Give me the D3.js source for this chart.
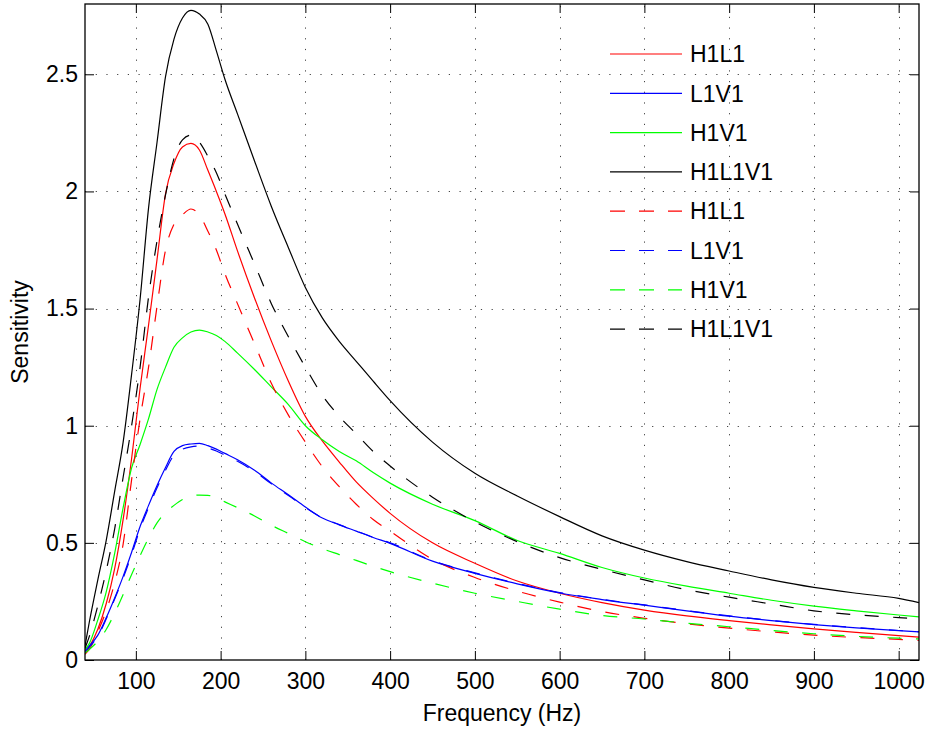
<!DOCTYPE html>
<html>
<head>
<meta charset="utf-8">
<script src="https://cdn.jsdelivr.net/npm/d3@7/dist/d3.min.js"></script>
<style>
  html, body { margin: 0; padding: 0; background: #fff; }
  svg text { font-family: "Liberation Sans", Arial, Helvetica, sans-serif; }
</style>
</head>
<body>
<svg id="chart" width="930" height="731"></svg>
<script>
// ---------------- data ----------------
const freq = [40, 45, 55, 65, 75, 85, 95, 105, 115, 125, 135, 145, 155, 165, 175, 185, 195, 205,
  220, 240, 260, 280, 300, 320, 340, 360, 380, 400, 450, 500, 550, 600, 650, 700, 750, 800,
  850, 900, 950, 1000, 1024];

const h1l1Solid = [0.025, 0.055, 0.13, 0.24, 0.39, 0.60, 0.86, 1.16, 1.43, 1.71, 1.99, 2.12, 2.19, 2.205,
  2.177, 2.09, 2.00, 1.905, 1.745, 1.545, 1.36, 1.19, 1.04, 0.935, 0.845, 0.76, 0.69, 0.626, 0.50,
  0.413, 0.337, 0.285, 0.245, 0.213, 0.188, 0.168, 0.15, 0.133, 0.118, 0.104, 0.098];

const l1v1Solid = [0.04, 0.06, 0.105, 0.18, 0.265, 0.357, 0.46, 0.57, 0.66, 0.745, 0.822, 0.89, 0.915,
  0.922, 0.925, 0.915, 0.90, 0.882, 0.855, 0.81, 0.755, 0.705, 0.653, 0.606, 0.577, 0.55, 0.523,
  0.498, 0.422, 0.37, 0.325, 0.286, 0.258, 0.234, 0.21, 0.187, 0.168, 0.151, 0.137, 0.125, 0.12];

const h1v1Solid = [0.045, 0.07, 0.17, 0.29, 0.455, 0.65, 0.82, 0.92, 1.03, 1.155, 1.25, 1.335, 1.375,
  1.40, 1.408, 1.40, 1.385, 1.36, 1.31, 1.24, 1.165, 1.09, 1.00, 0.94, 0.89, 0.85, 0.80, 0.755,
  0.665, 0.595, 0.51, 0.455, 0.395, 0.35, 0.315, 0.285, 0.255, 0.23, 0.21, 0.192, 0.184];

const h1l1v1Solid = [0.06, 0.16, 0.34, 0.51, 0.72, 0.93, 1.22, 1.54, 1.93, 2.21, 2.49, 2.65, 2.74, 2.773,
  2.757, 2.714, 2.60, 2.48, 2.33, 2.13, 1.935, 1.76, 1.59, 1.46, 1.36, 1.275, 1.19, 1.107, 0.93,
  0.797, 0.70, 0.612, 0.53, 0.469, 0.42, 0.38, 0.342, 0.31, 0.285, 0.263, 0.245];

const h1l1Dashed = [0.025, 0.045, 0.12, 0.21, 0.33, 0.495, 0.77, 1.03, 1.25, 1.51, 1.75, 1.86, 1.90,
  1.925, 1.90, 1.83, 1.75, 1.65, 1.52, 1.35, 1.18, 1.045, 0.93, 0.825, 0.74, 0.665, 0.60, 0.55,
  0.43, 0.352, 0.294, 0.247, 0.207, 0.178, 0.155, 0.136, 0.12, 0.106, 0.096, 0.088, 0.084];

const l1v1Dashed = [0.035, 0.055, 0.10, 0.175, 0.26, 0.35, 0.45, 0.56, 0.65, 0.735, 0.81, 0.875, 0.90,
  0.91, 0.913, 0.905, 0.892, 0.875, 0.848, 0.805, 0.752, 0.702, 0.651, 0.607, 0.578, 0.551, 0.524,
  0.50, 0.424, 0.372, 0.327, 0.288, 0.259, 0.235, 0.211, 0.188, 0.169, 0.152, 0.138, 0.126, 0.121];

const h1v1Dashed = [0.03, 0.045, 0.08, 0.13, 0.20, 0.28, 0.365, 0.445, 0.52, 0.585, 0.63, 0.66, 0.685,
  0.70, 0.704, 0.703, 0.692, 0.675, 0.65, 0.615, 0.575, 0.54, 0.505, 0.475, 0.45, 0.425, 0.40,
  0.377, 0.328, 0.285, 0.25, 0.217, 0.19, 0.175, 0.157, 0.142, 0.126, 0.112, 0.101, 0.093, 0.09];

const h1l1v1Dashed = [0.05, 0.10, 0.23, 0.38, 0.56, 0.78, 1.00, 1.25, 1.55, 1.79, 1.985, 2.14, 2.22,
  2.24, 2.21, 2.15, 2.08, 1.99, 1.86, 1.69, 1.52, 1.38, 1.25, 1.13, 1.04, 0.965, 0.89, 0.828,
  0.695, 0.59, 0.505, 0.437, 0.387, 0.342, 0.30, 0.268, 0.239, 0.21, 0.193, 0.181, 0.175];

const seriesNames = ["H1L1", "L1V1", "H1V1", "H1L1V1", "H1L1", "L1V1", "H1V1", "H1L1V1"];
const seriesValues = [h1l1Solid, l1v1Solid, h1v1Solid, h1l1v1Solid,
                      h1l1Dashed, l1v1Dashed, h1v1Dashed, h1l1v1Dashed];
const seriesColors = ["#ff0000", "#0000ff", "#00ff00", "#000000",
                      "#ff0000", "#0000ff", "#00ff00", "#000000"];
const seriesDashed = [false, false, false, false, true, true, true, true];

const xTicks = [100, 200, 300, 400, 500, 600, 700, 800, 900, 1000];
const yTicks = [0, 0.5, 1, 1.5, 2, 2.5];
const xLabel = "Frequency (Hz)";
const yLabel = "Sensitivity";

// ---------------- layout ----------------
const L = 85, R = 919, T = 4, B = 660;
const svg = d3.select("#chart");
const x = d3.scaleLinear().domain([40, 1024]).range([L, R]);
const y = d3.scaleLinear().domain([0, 2.8]).range([B, T]);
const FS = 23;
const DASH = "14,14.5";

// grid
const grid = svg.append("g");
grid.selectAll("line.gx").data(xTicks).enter().append("line")
  .attr("x1", d => Math.round(x(d)) + 0.5).attr("x2", d => Math.round(x(d)) + 0.5)
  .attr("y1", B).attr("y2", T)
  .attr("stroke", "#444").attr("stroke-width", 1).attr("stroke-dasharray", "1.2,9.5");
grid.selectAll("line.gy").data(yTicks.filter(d => d > 0)).enter().append("line")
  .attr("y1", d => Math.round(y(d)) + 0.5).attr("y2", d => Math.round(y(d)) + 0.5)
  .attr("x1", L).attr("x2", R)
  .attr("stroke", "#444").attr("stroke-width", 1).attr("stroke-dasharray", "1.2,9.5");

// series
svg.append("clipPath").attr("id", "clip").append("rect")
  .attr("x", L).attr("y", T).attr("width", R - L).attr("height", B - T);
const line = d3.line().curve(d3.curveMonotoneX).x(d => x(d[0])).y(d => y(d[1]));
const plot = svg.append("g").attr("clip-path", "url(#clip)");
seriesValues.forEach((vals, i) => {
  plot.append("path")
    .datum(freq.map((f, j) => [f, vals[j]]))
    .attr("d", line)
    .attr("fill", "none")
    .attr("stroke", seriesColors[i])
    .attr("stroke-width", 1.2)
    .attr("stroke-dasharray", seriesDashed[i] ? DASH : null);
});

// axes
function styleAxis(g) {
  g.select(".domain").remove();
  g.selectAll(".tick line").attr("stroke", "#000").attr("stroke-width", 1);
  g.selectAll(".tick text").attr("fill", "#000").style("font-size", FS + "px");
}
svg.append("g").attr("transform", `translate(0,${B})`)
  .call(d3.axisBottom(x).tickValues(xTicks).tickSize(-9).tickPadding(13).tickFormat(d => String(d)))
  .call(styleAxis);
svg.append("g").attr("transform", `translate(0,${T})`)
  .call(d3.axisTop(x).tickValues(xTicks).tickSize(-9).tickFormat(""))
  .call(styleAxis);
svg.append("g").attr("transform", `translate(${L},0)`)
  .call(d3.axisLeft(y).tickValues(yTicks).tickSize(-9).tickPadding(7).tickFormat(d => String(d)))
  .call(styleAxis);
svg.append("g").attr("transform", `translate(${R},0)`)
  .call(d3.axisRight(y).tickValues(yTicks).tickSize(-9).tickFormat(""))
  .call(styleAxis);

// frame
svg.append("rect").attr("x", L).attr("y", T).attr("width", R - L).attr("height", B - T)
  .attr("fill", "none").attr("stroke", "#000").attr("stroke-width", 1.3);

// axis labels
svg.append("text").attr("x", (L + R) / 2).attr("y", 721).attr("text-anchor", "middle")
  .style("font-size", FS + "px").text(xLabel);
svg.append("text").attr("transform", `translate(28,${(T + B) / 2}) rotate(-90)`)
  .attr("text-anchor", "middle").style("font-size", FS + "px").text(yLabel);

// legend
const lg = svg.append("g");
seriesNames.forEach((name, i) => {
  const yy = 54 + i * 39.3;
  lg.append("line").attr("x1", 610).attr("x2", 682).attr("y1", yy).attr("y2", yy)
    .attr("stroke", seriesColors[i]).attr("stroke-width", 1.2)
    .attr("stroke-dasharray", seriesDashed[i] ? "15,14" : null);
  lg.append("text").attr("x", 690).attr("y", yy).attr("dy", "0.36em")
    .style("font-size", FS + "px").text(name);
});
</script>
</body>
</html>
